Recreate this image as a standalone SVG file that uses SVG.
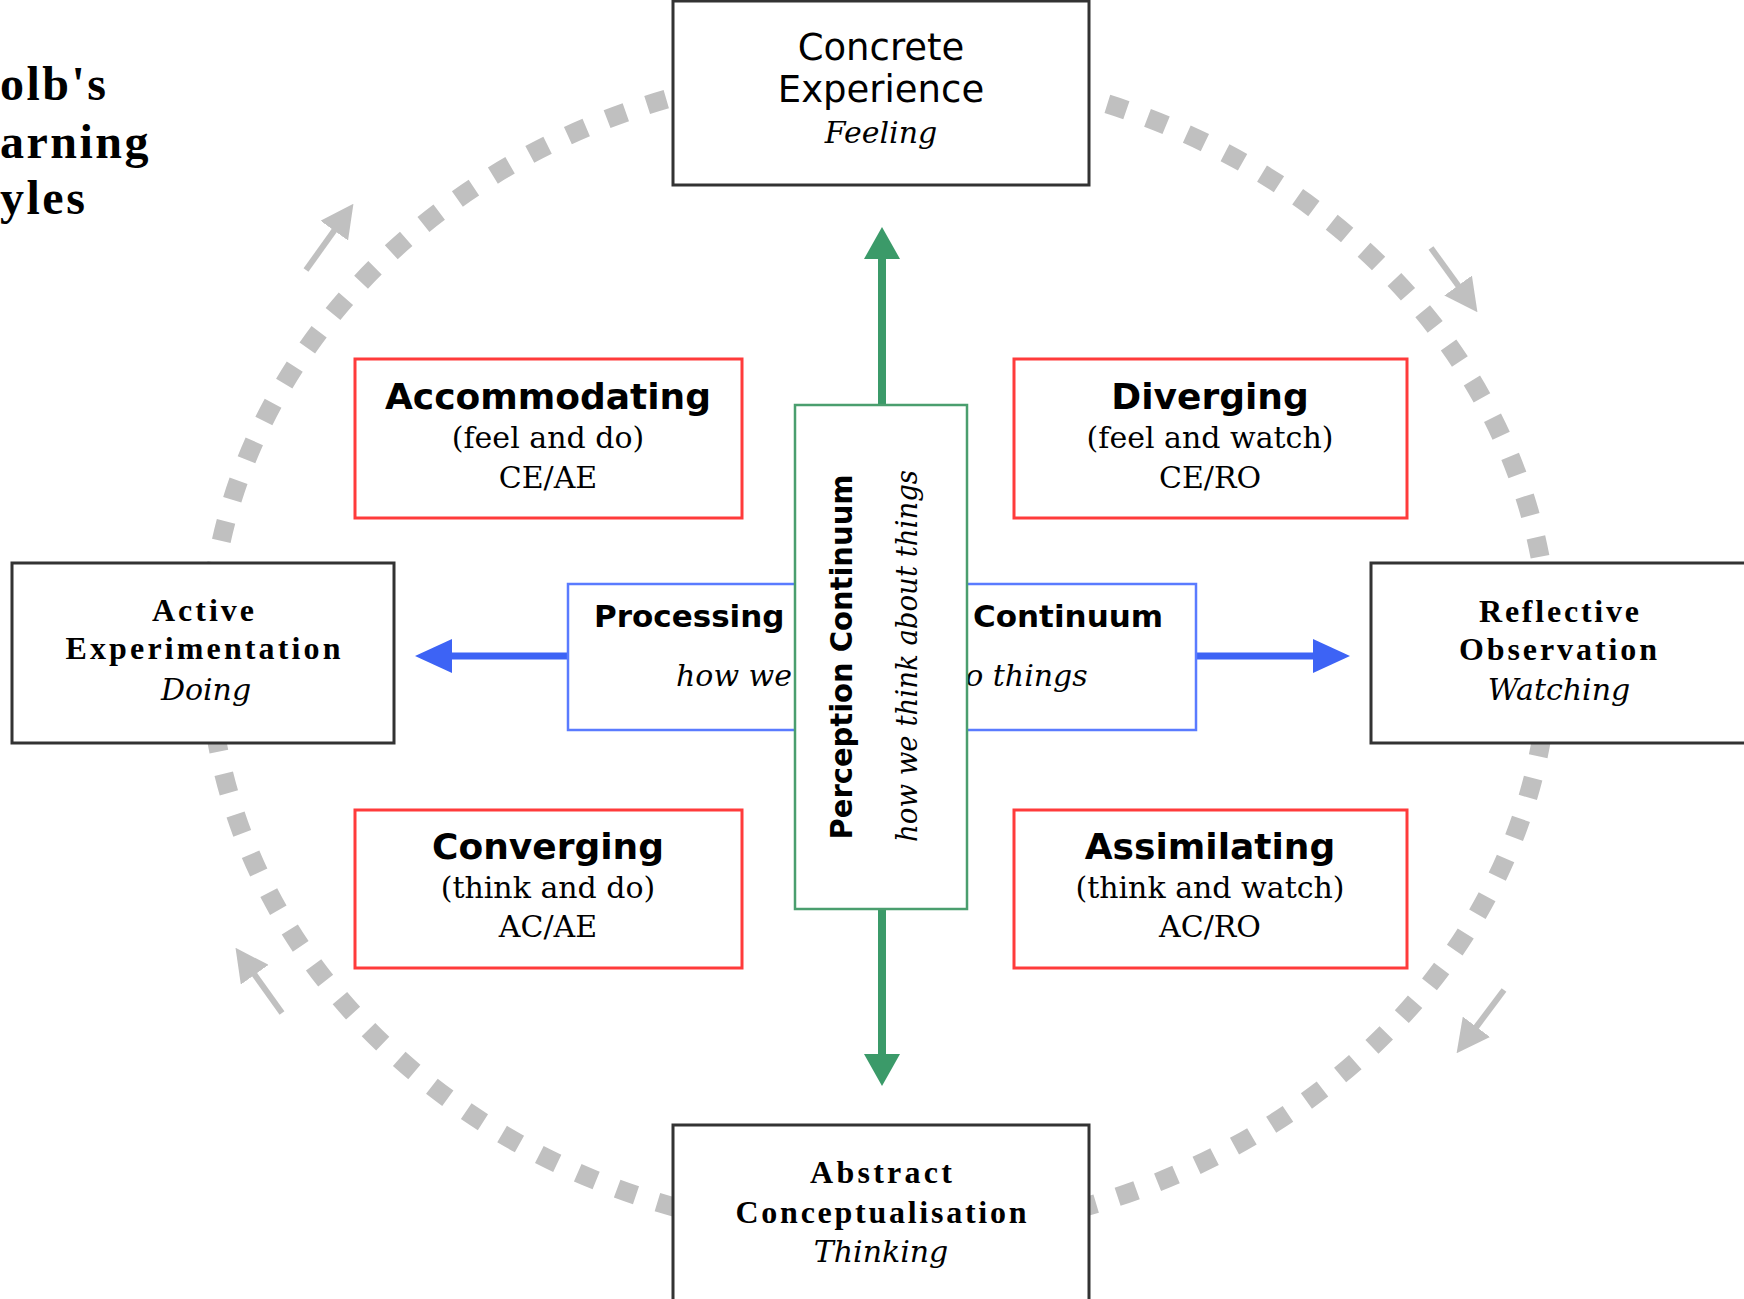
<svg xmlns="http://www.w3.org/2000/svg" width="1744" height="1299" viewBox="0 0 1744 1299">
<defs>
<marker id="mGray" markerUnits="userSpaceOnUse" markerWidth="33" markerHeight="34" viewBox="0 0 33 34" refX="1" refY="17" orient="auto"><path d="M0,0L33,17L0,34z" fill="#c0c0c0"/></marker>
<marker id="mBlue" markerUnits="userSpaceOnUse" markerWidth="37" markerHeight="34" viewBox="0 0 37 34" refX="1" refY="17" orient="auto"><path d="M0,0L37,17L0,34z" fill="#3d63f5"/></marker>
<marker id="mGreen" markerUnits="userSpaceOnUse" markerWidth="32" markerHeight="36" viewBox="0 0 32 36" refX="1" refY="18" orient="auto"><path d="M0,0L32,18L0,36z" fill="#3b9a69"/></marker>
</defs>
<style>
.cycle{fill:none;stroke:#c0c0c0;stroke-width:19;stroke-dasharray:20 22.5}
.garrow{fill:none;stroke:#c0c0c0;stroke-width:6;marker-end:url(#mGray)}
.barrow{fill:none;stroke:#3d63f5;stroke-width:7;marker-end:url(#mBlue)}
.parrow{fill:none;stroke:#3b9a69;stroke-width:8;marker-end:url(#mGreen)}
.mode{fill:#fff;stroke:#333;stroke-width:3}
.lstyle{fill:#fff;stroke:#ff3b3b;stroke-width:3}
.proc{fill:#fff;stroke:#5a7bff;stroke-width:2.5}
.perc{fill:#fff;stroke:#4a9e6e;stroke-width:2.5}
.title{font-family:"Liberation Serif","Times New Roman",serif;font-weight:bold;font-size:48px;letter-spacing:2.5px;fill:#000}
.msans{font-family:"DejaVu Sans",Verdana,sans-serif;font-size:37px;text-anchor:middle;fill:#000}
.mserif{font-family:"Liberation Serif","Times New Roman",serif;font-weight:bold;font-size:32px;text-anchor:middle;fill:#000}
.ital{font-family:"DejaVu Serif",Georgia,serif;font-style:italic;font-size:30px;fill:#000}
.mid{text-anchor:middle}
.head{font-family:"DejaVu Sans",Verdana,sans-serif;font-weight:bold;font-size:36px;text-anchor:middle;fill:#000}
.sub{font-family:"DejaVu Serif",Georgia,serif;font-size:30px;text-anchor:middle;fill:#000}
.cont{font-family:"DejaVu Sans",Verdana,sans-serif;font-weight:bold;font-size:31px;fill:#000}
</style>
<rect width="1744" height="1299" fill="#fff"/>

<g id="title">
<text class="title" x="0" y="100">olb's</text>
<text class="title" x="0" y="158">arning</text>
<text class="title" x="0" y="214">yles</text>
</g>

<g id="connectors">
<ellipse class="cycle" cx="879" cy="652" rx="670" ry="583"/>
<path class="garrow" d="M306,270L334.8,229.8"/>
<path class="garrow" d="M1431,248L1458.7,286.3"/>
<path class="garrow" d="M1504,990L1475.8,1027.6"/>
<path class="garrow" d="M282,1013L254.1,973.9"/>
<path class="barrow" d="M568,656L451,656"/>
<path class="barrow" d="M1196,656L1314,656"/>
<path class="parrow" d="M882,405L882,258"/>
<path class="parrow" d="M882,909L882,1055"/>
</g>

<g id="concrete-experience">
<rect class="mode" x="673" y="1" width="416" height="184"/>
<text class="msans" x="881" y="60">Concrete</text>
<text class="msans" x="881" y="102">Experience</text>
<text class="ital mid" x="881" y="143">Feeling</text>
</g>

<g id="active-experimentation">
<rect class="mode" x="12" y="563" width="382" height="180"/>
<text class="mserif" x="203" y="621" textLength="102" lengthAdjust="spacing">Active</text>
<text class="mserif" x="203" y="659" textLength="275" lengthAdjust="spacing">Experimentation</text>
<text class="ital mid" x="206" y="700">Doing</text>
</g>

<g id="reflective-observation">
<rect class="mode" x="1371" y="563" width="420" height="180"/>
<text class="mserif" x="1559" y="622" textLength="160" lengthAdjust="spacing">Reflective</text>
<text class="mserif" x="1558" y="660" textLength="198" lengthAdjust="spacing">Observation</text>
<text class="ital mid" x="1559" y="700">Watching</text>
</g>

<g id="abstract-conceptualisation">
<rect class="mode" x="673" y="1125" width="416" height="190"/>
<text class="mserif" x="881" y="1183" textLength="142" lengthAdjust="spacing">Abstract</text>
<text class="mserif" x="881" y="1223" textLength="291" lengthAdjust="spacing">Conceptualisation</text>
<text class="ital mid" x="881" y="1262">Thinking</text>
</g>

<g id="accommodating">
<rect class="lstyle" x="355" y="359" width="387" height="159"/>
<text class="head" x="548" y="409">Accommodating</text>
<text class="sub" x="548" y="448">(feel and do)</text>
<text class="sub" x="548" y="488">CE/AE</text>
</g>

<g id="diverging">
<rect class="lstyle" x="1014" y="359" width="393" height="159"/>
<text class="head" x="1210" y="409">Diverging</text>
<text class="sub" x="1210" y="448">(feel and watch)</text>
<text class="sub" x="1210" y="488">CE/RO</text>
</g>

<g id="converging">
<rect class="lstyle" x="355" y="810" width="387" height="158"/>
<text class="head" x="548" y="859">Converging</text>
<text class="sub" x="548" y="898">(think and do)</text>
<text class="sub" x="548" y="937">AC/AE</text>
</g>

<g id="assimilating">
<rect class="lstyle" x="1014" y="810" width="393" height="158"/>
<text class="head" x="1210" y="859">Assimilating</text>
<text class="sub" x="1210" y="898">(think and watch)</text>
<text class="sub" x="1210" y="937">AC/RO</text>
</g>

<g id="processing-continuum">
<rect class="proc" x="568" y="584" width="628" height="146"/>
<text class="cont" x="594" y="627">Processing</text>
<text class="cont" x="973" y="627">Continuum</text>
<text class="ital" x="676" y="686">how we <tspan x="946">do things</tspan></text>
</g>

<g id="perception-continuum">
<rect class="perc" x="795" y="405" width="172" height="504"/>
<text class="cont mid" font-size="29" transform="translate(852,657) rotate(-90)" x="0" y="0" textLength="365" lengthAdjust="spacingAndGlyphs">Perception Continuum</text>
<text class="ital mid" font-size="28" transform="translate(917,656) rotate(-90)" x="0" y="0" textLength="372" lengthAdjust="spacingAndGlyphs">how we think about things</text>
</g>
</svg>
